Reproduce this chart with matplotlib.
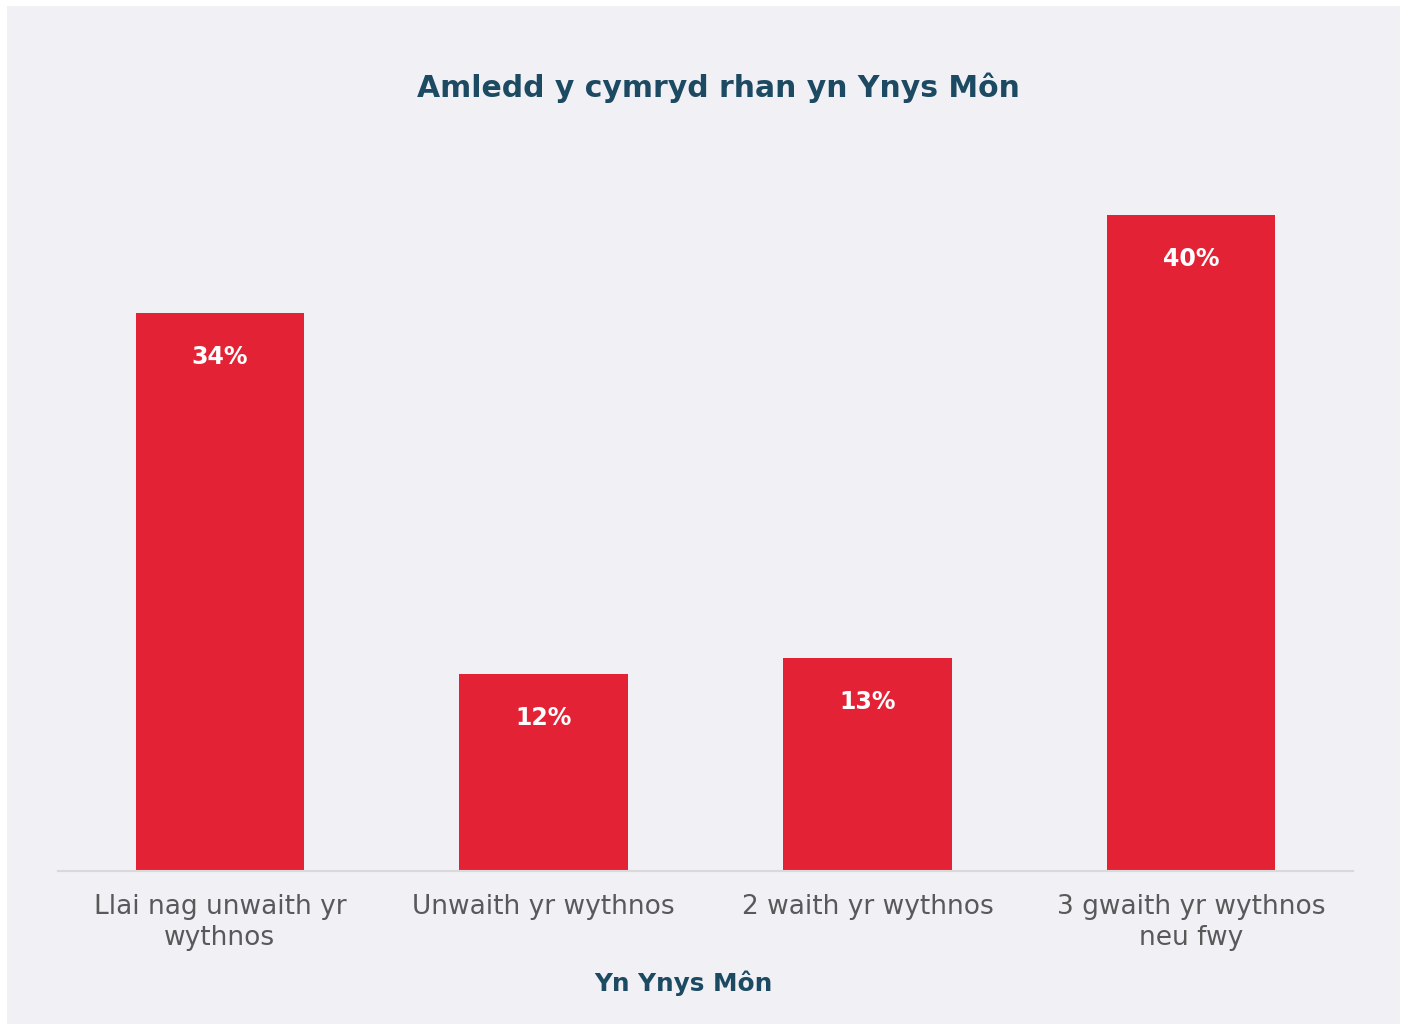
import matplotlib.pyplot as plt
from matplotlib.patches import Rectangle

categories = ['Llai nag unwaith yr\nwythnos', 'Unwaith yr wythnos',
              '2 waith yr wythnos', '3 gwaith yr wythnos\nneu fwy']
values = [34, 12, 13, 40]
labels = ['34%', '12%', '13%', '40%']

title = 'Amledd y cymryd rhan yn Ynys Môn'
xlabel = 'Yn Ynys Môn'

red = '#e32335'
teal = '#1b4a62'
panel = '#f1f0f5'

W, H = 1406, 1024
fig = plt.figure(figsize=(W / 100, H / 100), dpi=100)
fig.patch.set_facecolor('white')
bg = Rectangle((7 / W, 0), 1393 / W, 1018 / H, transform=fig.transFigure,
               facecolor=panel, edgecolor='none')
fig.add_artist(bg)
bg.set_zorder(-10)

ax = fig.add_axes([58 / W, (H - 871) / H, 1295 / W, (871 - 215) / H])
ax.set_zorder(1)
ax.set_facecolor('none')

x = range(len(values))
bars = ax.bar(x, values, width=0.52, color=red, zorder=2)
ax.set_xlim(-0.5, 3.5)
ax.set_ylim(0, 40)

for b, lab in zip(bars, labels):
    ax.annotate(lab, (b.get_x() + b.get_width() / 2, b.get_height()),
                xytext=(0, -31.5), textcoords='offset points', ha='center', va='center',
                color='white', fontsize=17, fontweight='bold')

for s in ['top', 'right', 'left']:
    ax.spines[s].set_visible(False)
ax.spines['bottom'].set_color('#d9d9d9')
ax.spines['bottom'].set_linewidth(1.5)
ax.set_yticks([])
ax.set_xticks(list(x))
ax.set_xticklabels(categories, fontsize=19, color='#595959', linespacing=1.25)
ax.tick_params(axis='x', length=0, pad=16.5)

fig.text(718 / W, 1 - 88 / H, title, ha='center', va='center',
         fontsize=21.5, fontweight='bold', color=teal)
fig.text(683 / W, 1 - 983 / H, xlabel, ha='center', va='center',
         fontsize=17.8, fontweight='bold', color=teal)

fig.savefig('out.png', dpi=100, facecolor=fig.get_facecolor())
